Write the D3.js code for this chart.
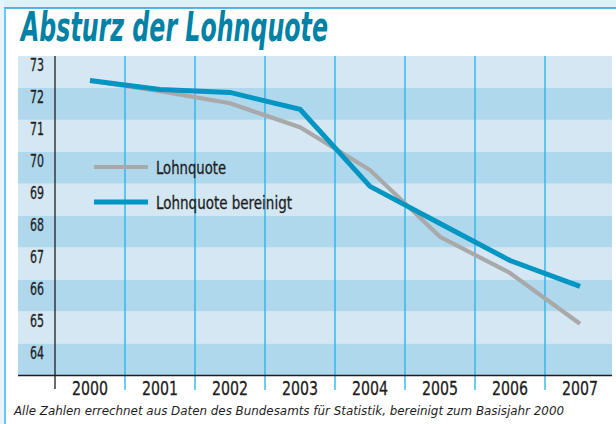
<!DOCTYPE html>
<html>
<head>
<meta charset="utf-8">
<script src="https://cdn.jsdelivr.net/npm/d3@7"></script>
<style>
  html, body { margin: 0; padding: 0; background: #fff; }
  svg { display: block; }
</style>
</head>
<body>
<div id="chart"></div>
<script>
// Lohnquote 2000–2007
const years       = [2000, 2001, 2002, 2003, 2004, 2005, 2006, 2007];
const lohnquote   = [72.23, 71.9, 71.52, 70.77, 69.43, 67.34, 66.21, 64.62];
const bereinigt   = [72.23, 71.95, 71.86, 71.33, 68.92, 67.76, 66.6, 65.79];
const yTicks      = [73, 72, 71, 70, 69, 68, 67, 66, 65, 64];
const seriesNames = ["Lohnquote", "Lohnquote bereinigt"];

const FONT = "'Liberation Sans Narrow', 'DejaVu Sans Condensed', 'Roboto Condensed', sans-serif";
const W = 616, H = 424;
const BAND_LIGHT = "#d4e7f2", BAND_DARK = "#afd8ed";
const GRAY = "#a9a9a9", BLUE = "#0096c4";
const INK = "#1e1e1e";

const svg = d3.select("#chart").append("svg")
  .attr("width", W).attr("height", H)
  .style("font-family", FONT);

// frame: pale strip on top, thin blue rules
svg.append("rect").attr("x", 0).attr("y", 0).attr("width", W).attr("height", 8).attr("fill", "#dff0fa");
svg.append("rect").attr("x", 0).attr("y", 0).attr("width", 4).attr("height", H).attr("fill", "#e8f4fb");
svg.append("line").attr("x1", 4).attr("x2", W).attr("y1", 8).attr("y2", 8)
  .attr("stroke", "#1aa0d8").attr("stroke-width", 1.6);
svg.append("line").attr("x1", 5).attr("x2", 5).attr("y1", 8).attr("y2", H)
  .attr("stroke", "#5bc0eb").attr("stroke-width", 1.8);

// title
svg.append("text")
  .attr("x", 21).attr("y", 41)
  .attr("font-size", 40).attr("font-weight", "bold").attr("font-style", "italic")
  .attr("fill", "#0081a6")
  .attr("textLength", 307).attr("lengthAdjust", "spacingAndGlyphs")
  .text("Absturz der Lohnquote");

// scales
const plotLeft = 18, plotRight = 612, axisX = 55;
const x = d3.scaleBand().domain(years).range([axisX, axisX + 70 * years.length]).padding(0);
const y = d3.scaleLinear().domain([63, 73]).range([375.5, 56]);

// horizontal bands, one per tick value
svg.append("g").selectAll("rect")
  .data(yTicks)
  .join("rect")
  .attr("x", plotLeft).attr("width", plotRight - plotLeft)
  .attr("y", d => y(d))
  .attr("height", d => y(d - 1) - y(d))
  .attr("fill", (d, i) => i % 2 === 0 ? BAND_LIGHT : BAND_DARK);

// year column separators
svg.append("g").selectAll("line")
  .data(years.slice(1))
  .join("line")
  .attr("x1", d => x(d)).attr("x2", d => x(d))
  .attr("y1", y(73)).attr("y2", 390)
  .attr("stroke", "#2bb5ee").attr("stroke-width", 1.4);

// axes
svg.append("line").attr("x1", plotLeft).attr("x2", plotRight)
  .attr("y1", y(63)).attr("y2", y(63)).attr("stroke", INK).attr("stroke-width", 1.5);
svg.append("line").attr("x1", axisX).attr("x2", axisX)
  .attr("y1", y(73)).attr("y2", 389).attr("stroke", INK).attr("stroke-width", 1.3);

// y labels sit just under their value
svg.append("g").selectAll("text")
  .data(yTicks)
  .join("text")
  .attr("x", 30).attr("y", d => y(d) + 15)
  .attr("font-size", 18).attr("fill", INK)
  .attr("stroke", INK).attr("stroke-width", 0.3)
  .attr("textLength", 14).attr("lengthAdjust", "spacingAndGlyphs")
  .text(d => d);

// year labels
svg.append("g").selectAll("text")
  .data(years)
  .join("text")
  .attr("x", d => x(d) + x.bandwidth() / 2 - 18).attr("y", 395)
  .attr("font-size", 20).attr("fill", INK)
  .attr("stroke", INK).attr("stroke-width", 0.3)
  .attr("textLength", 36).attr("lengthAdjust", "spacingAndGlyphs")
  .text(d => d);

// lines
const line = d3.line()
  .x((d, i) => x(years[i]) + x.bandwidth() / 2)
  .y(d => y(d));

svg.append("path").datum(lohnquote)
  .attr("d", line).attr("fill", "none")
  .attr("stroke", GRAY).attr("stroke-width", 4.2);
svg.append("path").datum(bereinigt)
  .attr("d", line).attr("fill", "none")
  .attr("stroke", BLUE).attr("stroke-width", 5);

// legend
const legend = svg.append("g");
const legendWidths = [70, 136];
[GRAY, BLUE].forEach((c, i) => {
  const ly = 167 + i * 35;
  legend.append("line").attr("x1", 94).attr("x2", 148).attr("y1", ly).attr("y2", ly)
    .attr("stroke", c).attr("stroke-width", i === 0 ? 4.2 : 5);
  legend.append("text").attr("x", 156).attr("y", ly + 7)
    .attr("font-size", 18).attr("fill", INK)
    .attr("stroke", INK).attr("stroke-width", 0.3)
    .attr("textLength", legendWidths[i]).attr("lengthAdjust", "spacingAndGlyphs")
    .text(seriesNames[i]);
});

// footnote
svg.append("text")
  .attr("x", 14).attr("y", 415)
  .attr("font-size", 13).attr("font-style", "italic").attr("fill", INK)
  .attr("textLength", 550).attr("lengthAdjust", "spacingAndGlyphs")
  .text("Alle Zahlen errechnet aus Daten des Bundesamts für Statistik, bereinigt zum Basisjahr 2000");
</script>
</body>
</html>
